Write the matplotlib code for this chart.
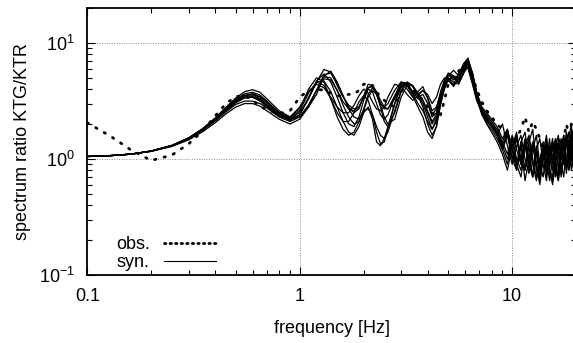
import matplotlib
matplotlib.use("Agg")
import matplotlib.pyplot as plt
from matplotlib.lines import Line2D

plt.rcParams['font.family'] = ['Liberation Sans', 'DejaVu Sans']
plt.rcParams['mathtext.fontset'] = 'custom'
plt.rcParams['mathtext.rm'] = 'Liberation Sans'
plt.rcParams['axes.unicode_minus'] = False

# frequency samples [Hz]
freq = [0.1, 0.13, 0.16, 0.2, 0.25, 0.3, 0.35, 0.4, 0.45, 0.5, 0.55, 0.6, 0.65, 0.7, 0.8, 0.9,
        1.0, 1.1, 1.2, 1.3, 1.4, 1.5, 1.6, 1.7, 1.8, 1.9, 2.0, 2.1, 2.2, 2.3, 2.4, 2.5, 2.6, 2.8,
        3.0, 3.2, 3.4, 3.6, 3.8, 4.0, 4.2, 4.4, 4.6, 4.8, 5.0, 5.3, 5.6, 5.9, 6.2, 6.5, 6.8, 7.2,
        7.6, 8.0,
        8.5, 9.0, 9.5, 10, 10.5, 11, 11.5, 12, 12.5, 13, 13.5, 14, 14.5, 15, 15.5, 16, 16.5, 17,
        17.5, 18, 18.5, 19, 19.5, 20]

# observed spectral ratio
obs = [2.05, 1.55, 1.2, 0.97, 1.08, 1.35, 1.75, 2.35, 3.0, 3.45, 3.5, 3.2, 2.85, 2.65, 2.45, 2.6,
       3.4, 3.9, 4.0, 3.9, 3.7, 3.5, 3.5, 3.6, 3.6, 3.9, 4.4, 4.5, 4.3, 3.8, 3.4, 3.2, 3.0, 2.8,
       3.8, 4.4, 3.9, 3.6, 3.2, 2.8, 2.5, 2.3, 2.4, 3.2, 4.4, 5.3, 5.7, 6.5, 7.0, 5.2, 4.0, 3.1,
       2.6, 2.3,
       2.0, 1.8, 1.5, 1.3, 1.5, 1.8, 2.3, 1.7, 2.1, 1.8, 1.5, 1.2, 1.1, 1.2, 1.0, 1.3, 1.5, 1.2,
       1.5, 2.0, 1.6, 2.0, 1.6, 1.8]

# synthetic spectral ratios
syn1 = [1.05, 1.07, 1.10, 1.17, 1.30, 1.52, 1.83, 2.25, 2.80, 3.35, 3.80, 3.95, 3.75, 3.30, 2.60, 2.30,
        2.5, 3.3, 4.6, 5.9, 5.6, 4.3, 3.4, 2.9, 2.7, 2.8, 3.4, 4.1, 4.3, 3.8, 3.2, 2.8, 2.7, 3.3,
        4.3, 4.4, 3.8, 3.6, 3.9, 3.6, 3.0, 3.4, 4.4, 5.0, 4.8, 4.2, 5.0, 6.0, 6.5, 5.0, 3.6, 2.8,
        2.5, 2.2,
        1.9, 1.5, 1.8, 1.2, 0.9, 1.4, 0.8, 1.3, 0.7, 1.2, 0.8, 1.4, 0.7, 1.3, 0.9, 1.5, 0.8, 1.4,
        0.9, 1.6, 1.0, 1.8, 1.1, 1.6]
syn2 = [1.05, 1.07, 1.10, 1.17, 1.31, 1.52, 1.82, 2.25, 2.75, 3.25, 3.55, 3.55, 3.30, 2.95, 2.45, 2.25,
        2.7, 4.0, 5.0, 4.6, 3.3, 2.3, 1.8, 1.6, 1.7, 2.1, 2.6, 2.7, 2.4, 1.9, 1.6, 1.5, 1.7, 2.6,
        3.9, 4.6, 4.2, 3.5, 2.8, 2.0, 1.6, 1.9, 3.0, 4.3, 5.2, 5.8, 5.2, 5.8, 6.8, 5.5, 3.8, 2.6,
        2.0, 1.8,
        1.5, 1.2, 1.6, 1.0, 0.8, 1.3, 0.65, 1.0, 1.4, 0.8, 0.65, 1.2, 1.5, 0.8, 0.7, 1.3, 1.6, 0.9,
        0.7, 1.4, 1.7, 1.0, 0.8, 1.5]
syn3 = [1.05, 1.07, 1.10, 1.16, 1.28, 1.46, 1.72, 2.05, 2.45, 2.80, 3.0, 3.0, 2.85, 2.6, 2.2, 2.0,
        2.2, 2.8, 3.9, 5.1, 5.0, 3.9, 2.9, 2.3, 2.0, 2.1, 2.7, 3.6, 4.1, 3.7, 2.9, 2.3, 2.0, 2.2,
        3.4, 4.3, 4.3, 3.7, 3.2, 2.5, 2.0, 2.3, 3.3, 4.4, 5.0, 4.6, 4.4, 5.5, 6.2, 4.6, 3.3, 2.5,
        2.2, 2.0,
        1.7, 1.3, 1.0, 1.5, 0.9, 0.7, 1.2, 1.5, 0.9, 0.65, 0.9, 1.4, 1.0, 0.65, 1.0, 1.5, 1.1, 0.7,
        1.1, 1.7, 1.2, 0.8, 1.3, 1.9]
syn4 = [1.05, 1.07, 1.10, 1.17, 1.30, 1.50, 1.78, 2.15, 2.6, 3.05, 3.35, 3.4, 3.2, 2.85, 2.35, 2.15,
        2.4, 3.4, 4.6, 4.7, 3.8, 2.8, 2.1, 1.7, 1.6, 1.9, 2.5, 2.8, 2.2, 1.4, 1.3, 1.5, 1.9, 3.0,
        4.2, 4.3, 3.5, 2.8, 2.3, 1.7, 1.5, 1.9, 2.9, 4.1, 4.9, 5.0, 4.6, 5.6, 6.5, 5.2, 3.6, 2.6,
        2.1, 1.9,
        1.6, 2.0, 1.3, 0.9, 1.3, 1.6, 1.0, 0.75, 1.3, 0.9, 0.6, 1.0, 1.3, 0.75, 0.65, 1.2, 1.4, 0.8,
        1.1, 1.5, 0.9, 1.3, 1.8, 1.2]
syn5 = [1.05, 1.07, 1.10, 1.17, 1.30, 1.51, 1.82, 2.23, 2.75, 3.25, 3.65, 3.75, 3.55, 3.15, 2.5, 2.2,
        2.3, 2.9, 3.9, 5.3, 5.5, 4.5, 3.5, 2.8, 2.5, 2.7, 3.5, 4.4, 4.3, 3.6, 3.0, 2.8, 3.0, 3.9,
        4.6, 4.0, 3.4, 3.8, 4.2, 3.3, 2.4, 2.7, 3.8, 4.8, 5.3, 4.8, 5.3, 6.6, 7.4, 5.4, 3.5, 2.6,
        2.3, 2.1,
        1.8, 1.4, 1.8, 1.2, 1.6, 1.0, 1.5, 0.9, 1.4, 1.1, 0.7, 1.3, 0.9, 1.5, 0.8, 1.0, 1.4, 1.0,
        1.6, 0.9, 1.5, 2.0, 1.1, 1.7]
syn6 = [1.05, 1.07, 1.10, 1.17, 1.31, 1.51, 1.81, 2.22, 2.7, 3.15, 3.4, 3.4, 3.15, 2.8, 2.35, 2.15,
        2.6, 3.7, 4.6, 4.3, 3.3, 2.5, 2.1, 2.1, 2.5, 3.1, 3.5, 3.2, 2.4, 1.7, 1.35, 1.4, 1.8, 3.0,
        4.4, 4.5, 3.7, 3.0, 2.6, 2.1, 1.8, 2.2, 3.2, 4.5, 5.3, 5.1, 4.8, 6.0, 6.8, 4.9, 3.4, 2.4,
        2.0, 1.7,
        1.4, 1.1, 0.8, 1.3, 1.7, 0.9, 0.8, 1.4, 1.8, 0.9, 0.7, 1.0, 1.4, 0.8, 0.6, 0.9, 1.3, 1.0,
        1.4, 0.8, 1.1, 1.6, 0.9, 1.2]
syn7 = [1.05, 1.07, 1.10, 1.17, 1.30, 1.49, 1.77, 2.12, 2.55, 2.95, 3.15, 3.15, 3.0, 2.75, 2.3, 2.1,
        2.3, 2.9, 3.9, 4.9, 4.8, 3.9, 3.1, 2.7, 2.6, 2.8, 3.4, 4.1, 4.2, 3.6, 3.0, 2.7, 2.7, 3.5,
        4.5, 4.4, 3.7, 3.4, 3.6, 3.0, 2.3, 2.5, 3.5, 4.6, 5.0, 4.3, 4.9, 6.2, 7.0, 5.1, 3.7, 2.7,
        2.4, 2.1,
        1.7, 1.2, 1.7, 1.2, 0.8, 1.4, 1.7, 1.0, 0.7, 1.2, 1.5, 0.9, 0.65, 1.1, 1.4, 0.8, 0.65, 1.2,
        1.5, 1.0, 0.8, 1.4, 1.8, 1.3]
syn8 = [1.05, 1.07, 1.10, 1.17, 1.30, 1.50, 1.80, 2.2, 2.68, 3.15, 3.5, 3.65, 3.45, 3.1, 2.5, 2.25,
        2.3, 2.8, 3.6, 5.2, 5.7, 4.6, 3.5, 2.7, 2.3, 2.2, 2.6, 3.4, 3.9, 3.6, 2.8, 2.1, 1.9, 2.5,
        3.8, 4.6, 4.3, 3.5, 3.0, 2.3, 1.8, 2.1, 3.0, 4.0, 4.8, 5.1, 4.5, 5.4, 6.9, 5.6, 3.8, 2.8,
        2.3, 2.0,
        1.6, 1.4, 1.1, 1.6, 1.2, 0.9, 1.4, 0.8, 1.2, 1.6, 0.9, 0.7, 1.2, 0.8, 1.4, 1.0, 0.65, 1.0,
        1.3, 0.75, 1.2, 1.5, 1.0, 1.8]
syn9 = [1.05, 1.07, 1.10, 1.17, 1.30, 1.50, 1.79, 2.19, 2.66, 3.1, 3.4, 3.45, 3.25, 2.9, 2.4, 2.2,
        2.4, 3.3, 4.7, 5.4, 4.6, 3.4, 2.5, 2.0, 1.9, 2.3, 3.2, 4.0, 3.8, 3.0, 2.4, 2.2, 2.4, 3.4,
        4.6, 4.5, 3.8, 3.3, 3.2, 2.6, 2.1, 2.4, 3.4, 4.7, 5.5, 5.2, 5.0, 6.3, 7.2, 5.3, 3.6, 2.6,
        2.2, 1.9,
        1.6, 1.2, 0.9, 1.5, 1.0, 0.8, 1.3, 1.6, 1.0, 0.7, 1.0, 1.3, 0.8, 1.1, 1.5, 0.9, 0.7, 1.3,
        1.6, 1.0, 0.8, 1.3, 0.9, 1.5]
syn10 = [1.05, 1.07, 1.10, 1.17, 1.30, 1.50, 1.80, 2.2, 2.7, 3.2, 3.5, 3.6, 3.4, 3.05, 2.5, 2.3,
         2.8, 3.8, 4.4, 4.1, 3.4, 2.8, 2.5, 2.5, 2.9, 3.5, 4.0, 3.7, 3.1, 2.7, 2.6, 2.8, 3.4, 4.4,
         4.2, 3.6, 3.2, 3.5, 3.9, 3.4, 2.6, 2.8, 3.6, 4.4, 4.7, 4.4, 5.5, 6.4, 6.0, 4.4, 3.2, 2.5,
         2.1, 1.9,
         1.7, 1.3, 1.7, 1.0, 1.5, 0.9, 1.4, 0.9, 0.7, 1.3, 0.8, 1.1, 1.6, 0.9, 1.3, 0.7, 1.1, 1.5,
         0.9, 1.4, 1.7, 1.0, 1.5, 2.0]

syn_all = [syn1, syn2, syn3, syn4, syn5, syn6, syn7, syn8, syn9, syn10]

fig = plt.figure(figsize=(5.73, 3.43), dpi=100)
ax = fig.add_axes([0.1524, 0.198, 0.853, 0.779])

for s in syn_all:
    ax.plot(freq, s, color='black', lw=0.9)
ax.plot(freq, obs, color='black', lw=2.0, linestyle=(0, (0.5, 3.0)), dash_capstyle='round')

ax.set_xscale('log')
ax.set_yscale('log')
ax.set_xlim(0.1, 20)
ax.set_ylim(0.1, 20)
ax.set_xticks([0.1, 1, 10])
ax.set_xticklabels(['0.1', '1', '10'])
ax.set_yticks([0.1, 1, 10])

ax.grid(True, which='major', color='#888888', linestyle=(0, (1, 1.5)), lw=0.7)
ax.tick_params(which='both', direction='in', top=True, right=True, labelsize=13, width=0.8)
ax.tick_params(which='major', length=6, pad=9)
ax.tick_params(which='minor', length=3.5)
for sp in ax.spines.values():
    sp.set_linewidth(1.3)

ax.set_xlabel('frequency [Hz]', fontsize=13, labelpad=11)
ax.set_ylabel('spectrum ratio KTG/KTR', fontsize=13, labelpad=6)

handles = [Line2D([], [], color='black', lw=2.0, linestyle=(0, (0.5, 1.5)), dash_capstyle='round'),
           Line2D([], [], color='black', lw=0.8)]
ax.legend(handles, ['obs.', 'syn.'], loc='lower left', frameon=False, markerfirst=False,
          fontsize=13, handlelength=2.9, handletextpad=0.8, labelspacing=0.05,
          bbox_to_anchor=(0.025, -0.045))

fig.savefig('out.png', dpi=100)
